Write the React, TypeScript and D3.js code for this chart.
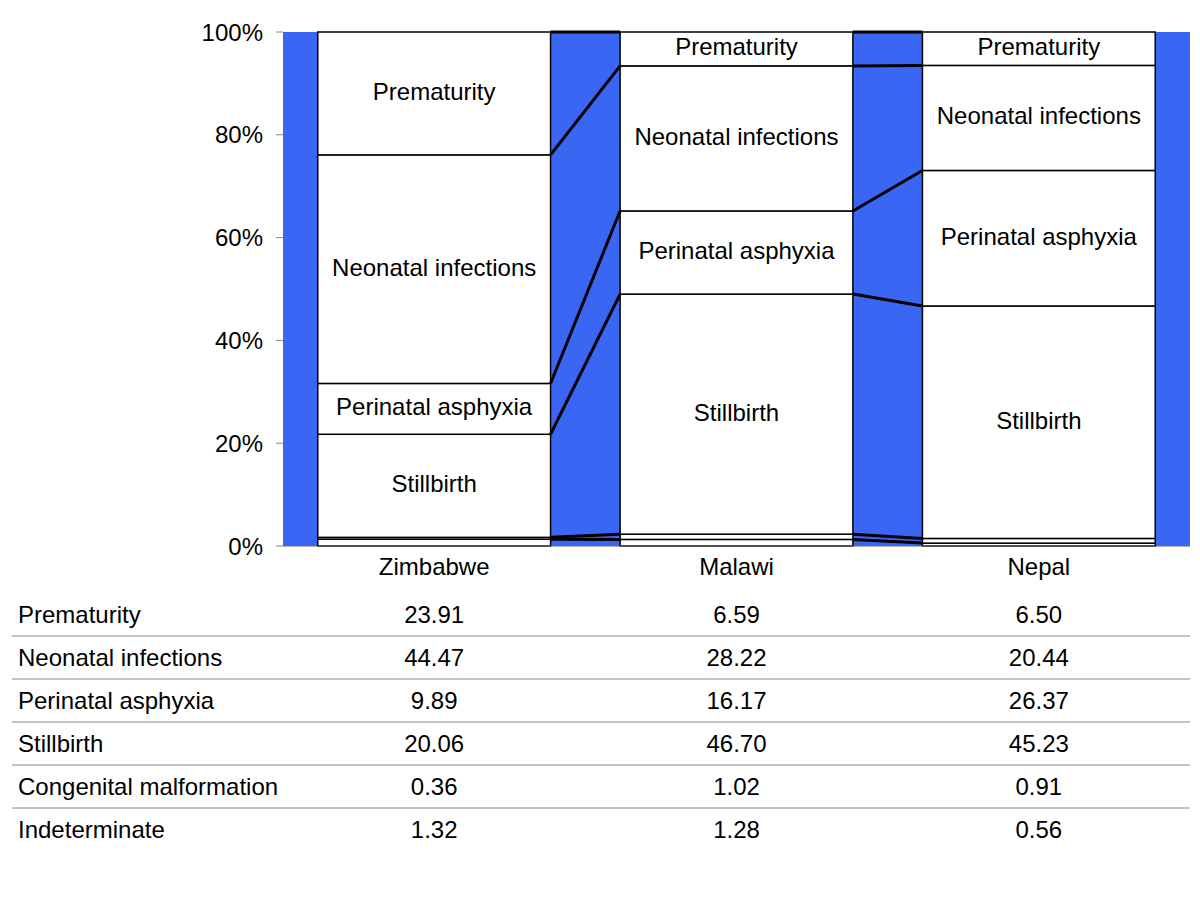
import React from "react";
import * as d3 from "d3";

const countries = ["Zimbabwe", "Malawi", "Nepal"];
const causes = [
  "Prematurity",
  "Neonatal infections",
  "Perinatal asphyxia",
  "Stillbirth",
  "Congenital malformation",
  "Indeterminate",
];
const zimbabwe = [23.91, 44.47, 9.89, 20.06, 0.36, 1.32];
const malawi = [6.59, 28.22, 16.17, 46.7, 1.02, 1.28];
const nepal = [6.5, 20.44, 26.37, 45.23, 0.91, 0.56];
const labelledCauses = ["Prematurity", "Neonatal infections", "Perinatal asphyxia", "Stillbirth"];
const yTicks = [0, 0.2, 0.4, 0.6, 0.8, 1];

const FONT = "'Liberation Sans', Arial, sans-serif";
const BLUE = "#3966F3";
const FS = 24;

export default function App() {
  const seriesByCountry = [zimbabwe, malawi, nepal];
  const rows = countries.map((c, i) => {
    const r: any = { country: c };
    causes.forEach((k, j) => (r[k] = seriesByCountry[i][j]));
    return r;
  });
  const stackOrder = [...causes].reverse(); // bottom first
  const stacked = d3.stack<any>().keys(stackOrder).offset(d3.stackOffsetExpand)(rows);

  const plotL = 283, plotR = 1190, plotT = 32, plotB = 546;
  const x = d3.scaleBand().domain(countries).range([plotL, plotR]).paddingInner(0.23).paddingOuter(0.115);
  const y = d3.scaleLinear().domain([0, 1]).range([plotB, plotT]);
  const bw = x.bandwidth();

  const tableTop = 593;
  const rowH = 43;

  return (
    <svg width={1200} height={900} style={{ position: "absolute", left: 0, top: 0, background: "#fff" }} fontFamily={FONT}>
      <rect x={plotL} y={plotT} width={plotR - plotL} height={plotB - plotT} fill={BLUE} />
      {/* bars */}
      {stacked.map((s) => (
        <g key={s.key}>
          {s.map((d, i) => (
            <rect
              key={i}
              x={x(countries[i])!}
              y={y(d[1])}
              width={bw}
              height={y(d[0]) - y(d[1])}
              fill="#fff"
              stroke="#000"
              strokeWidth={1.5}
            />
          ))}
        </g>
      ))}
      {/* series lines */}
      {stacked.map((s) => (
        <g key={"sl" + s.key}>
          {countries.slice(0, -1).map((c, i) => (
            <line
              key={i}
              x1={x(c)! + bw}
              x2={x(countries[i + 1])!}
              y1={y(s[i][1])}
              y2={y(s[i + 1][1])}
              stroke="#000"
              strokeWidth={3}
            />
          ))}
        </g>
      ))}
      {/* segment labels */}
      {stacked
        .filter((s) => labelledCauses.includes(s.key))
        .map((s) =>
          s.map((d, i) => (
            <text
              key={s.key + i}
              x={x(countries[i])! + bw / 2}
              y={(y(d[0]) + y(d[1])) / 2 - 2}
              textAnchor="middle"
              dominantBaseline="central"
              fontSize={FS}
              fill="#000"
            >
              {s.key}
            </text>
          ))
        )}
      {/* axis line */}
      <line x1={plotL} x2={plotR} y1={plotB} y2={plotB} stroke="#666" strokeWidth={1} />
      {/* y ticks */}
      {yTicks.map((t) => (
        <g key={t}>
          <line x1={276} x2={plotL} y1={y(t)} y2={y(t)} stroke="#888" strokeWidth={1} />
          <text x={263} y={y(t)} textAnchor="end" dominantBaseline="central" fontSize={FS} fill="#000">
            {d3.format(".0%")(t)}
          </text>
        </g>
      ))}
      {/* category labels */}
      {countries.map((c) => (
        <text key={c} x={x(c)! + bw / 2} y={566} textAnchor="middle" dominantBaseline="central" fontSize={FS}>
          {c}
        </text>
      ))}
      {/* data table */}
      {causes.map((k, j) => (
        <g key={k}>
          <text x={18} y={tableTop + rowH * j + rowH / 2} dominantBaseline="central" fontSize={FS}>
            {k}
          </text>
          {countries.map((c, i) => (
            <text
              key={c}
              x={x(c)! + bw / 2}
              y={tableTop + rowH * j + rowH / 2}
              textAnchor="middle"
              dominantBaseline="central"
              fontSize={FS}
            >
              {seriesByCountry[i][j].toFixed(2)}
            </text>
          ))}
          {j < causes.length - 1 && (
            <line x1={12} x2={plotR} y1={tableTop + rowH * (j + 1)} y2={tableTop + rowH * (j + 1)} stroke="#888" strokeWidth={1} />
          )}
        </g>
      ))}
    </svg>
  );
}
